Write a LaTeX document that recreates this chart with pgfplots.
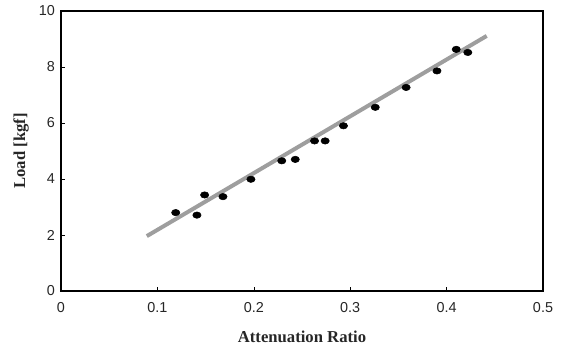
\documentclass[border=0pt]{standalone}
\usepackage{pgfplots}
\pgfplotsset{compat=1.18}
\usepackage{fontspec}
\setmainfont{Liberation Serif}
\setsansfont{Liberation Sans}
\begin{document}
\begin{tikzpicture}
\begin{axis}[
  name=ax,
  scale only axis,
  width=361.5pt, height=210pt,
  xmin=0, xmax=0.5, ymin=0, ymax=10,
  xtick={0,0.1,0.2,0.3,0.4,0.5},
  ytick={0,2,4,6,8,10},
  xticklabels={0,0.1,0.2,0.3,0.4,0.5},
  tick align=inside,
  major tick length=3pt,
  tick style={black, line width=0.4pt},
  xtick pos=bottom, ytick pos=left,
  axis line style={line width=1pt},
  /pgf/number format/assume math mode=true,
  ticklabel style={font=\sffamily\fontsize{10.8}{12}\selectfont, text=black!85},
  xticklabel style={yshift=-5pt},
  yticklabel style={xshift=-1pt},
  xlabel={Attenuation Ratio},
  ylabel={Load [kgf]},
  label style={font=\fontsize{12.5}{14}\selectfont\bfseries, text=black!85},
  xlabel style={at={(axis description cs:0.5,0)}, anchor=center, yshift=-34pt},
  ylabel style={at={(axis description cs:0,0.5)}, anchor=center, yshift=30pt},
]
\addplot[no marks, color=black!38, line width=3pt] coordinates {(0.089,1.96) (0.4416,9.11)};
\addplot[only marks, mark=*, mark size=2.4pt, mark options={fill=black, draw=black, xscale=1.3}] coordinates {
(0.119,2.80) (0.141,2.71) (0.149,3.43) (0.168,3.37) (0.197,3.99)
(0.229,4.65) (0.243,4.70) (0.263,5.36) (0.274,5.36) (0.293,5.90)
(0.326,6.56) (0.358,7.27) (0.390,7.86) (0.410,8.63) (0.422,8.52)
};
\end{axis}
\path ([xshift=-45.75pt,yshift=-42.75pt]ax.south west) rectangle ([xshift=16.5pt,yshift=8.25pt]ax.north east);
\end{tikzpicture}
\end{document}
